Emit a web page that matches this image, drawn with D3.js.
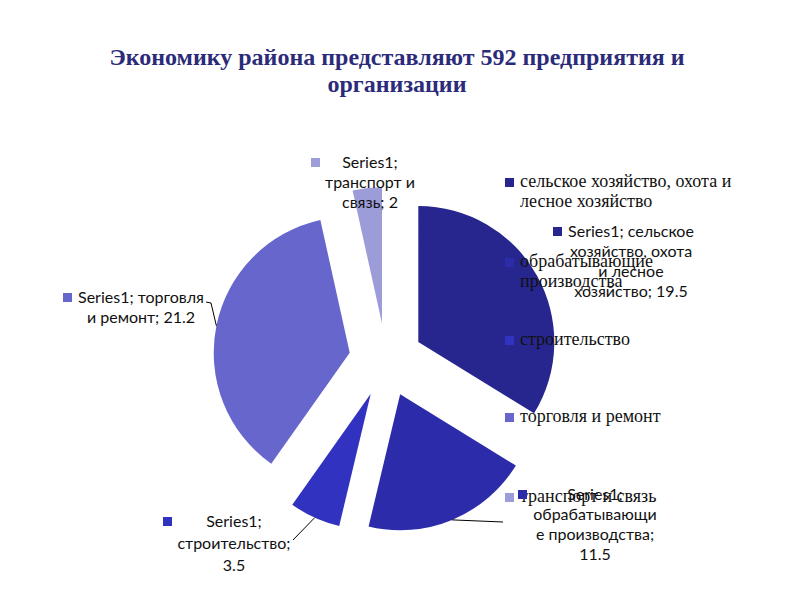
<!DOCTYPE html>
<html lang="ru">
<head>
<meta charset="UTF-8">
<title>Экономика района</title>
<script src="https://cdn.jsdelivr.net/npm/d3@7"></script>
<style>
  body { margin: 0; background: #fff; }
</style>
</head>
<body>
<div id="container"></div>
<script>
// data
let categories = ["сельское хозяйство, охота и лесное хозяйство", "обрабатывающие производства",
                  "строительство", "торговля и ремонт", "транспорт и связь"];
let values = [19.5, 11.5, 3.5, 21.2, 2];
let seriesName = "Series1";
let colors = ["#26268e", "#2c2caa", "#3232c0", "#6666cc", "#9c9cd8"];
// legend lines (wrapped like the original)
let legendLines = [["сельское хозяйство, охота и", "лесное хозяйство"], ["обрабатывающие", "производства"],
                   ["строительство"], ["торговля и ремонт"], ["транспорт и связь"]];
// data label lines
let labelLines = [
  ["Series1; сельское", "хозяйство, охота", "и лесное", "хозяйство; 19.5"],
  ["Series1;", "обрабатывающи", "е производства;", "11.5"],
  ["Series1;", "строительство;", "3.5"],
  ["Series1; торговля", "и ремонт; 21.2"],
  ["Series1;", "транспорт и", "связь; 2"]
];

let serif = "'Liberation Serif', Tinos, 'Times New Roman', 'Noto Serif', 'DejaVu Serif', serif";
let sans = "Lato, 'Noto Sans', sans-serif";

let W = 794, H = 595;
let svg = d3.select("#container").append("svg")
    .attr("width", W).attr("height", H);

let title = svg.append("text")
    .attr("font-family", serif).attr("font-weight", "bold").attr("font-size", 24)
    .attr("fill", "#2b2b7a").attr("text-anchor", "middle");
title.append("tspan").attr("x", 397).attr("y", 65)
    .text("Экономику района представляют 592 предприятия и");
title.append("tspan").attr("x", 397).attr("y", 92)
    .text("организации");

let cx = 386, cy = 360, radius = 136, explode = 37;

let pie = d3.pie().sort(null).value(d => d)(values);
let arc = d3.arc().innerRadius(0).outerRadius(radius);

function mid(d) { return (d.startAngle + d.endAngle) / 2; }
function offset(d) {
    let a = mid(d);
    return [cx + explode * Math.sin(a), cy - explode * Math.cos(a)];
}
function outerPoint(d) {
    let o = offset(d), a = mid(d);
    return [o[0] + radius * Math.sin(a), o[1] - radius * Math.cos(a)];
}

svg.append("g").selectAll("path")
    .data(pie).enter().append("path")
    .attr("transform", d => "translate(" + offset(d) + ")")
    .attr("d", arc)
    .attr("fill", (d, i) => colors[i]);

// legend
let legendY = [187, 267, 345, 422, 502];
let legend = svg.append("g");
categories.forEach((c, i) => {
    legend.append("rect")
        .attr("x", 505).attr("y", legendY[i] - 9)
        .attr("width", 9).attr("height", 9)
        .attr("fill", colors[i]);
    let t = legend.append("text").attr("x", 520).attr("y", legendY[i])
        .attr("font-family", serif).attr("font-size", 18).attr("fill", "#111");
    legendLines[i].forEach((l, j) => {
        t.append("tspan").attr("x", 520).attr("dy", j === 0 ? 0 : 20).text(l);
    });
});

// data labels: center x, first baseline, marker x, line step
let labelPos = [
    {x: 631, y: 237, mx: 553, step: 20},
    {x: 595, y: 500, mx: 518, step: 20},
    {x: 234, y: 527, mx: 163, step: 22},
    {x: 141, y: 303, mx: 63, step: 20},
    {x: 370, y: 168, mx: 311, step: 20}
];
let labels = svg.append("g");
pie.forEach((d, i) => {
    let p = labelPos[i];
    labels.append("rect")
        .attr("x", p.mx).attr("y", p.y - 10)
        .attr("width", 9).attr("height", 9)
        .attr("fill", colors[i]);
    let t = labels.append("text")
        .attr("font-family", sans).attr("font-size", 16).attr("fill", "#111")
        .attr("text-anchor", "middle").attr("y", p.y);
    labelLines[i].forEach((l, j) => {
        t.append("tspan").attr("x", p.x).attr("dy", j === 0 ? 0 : p.step).text(l);
    });
});

// leader lines (label end -> slice edge at mid angle)
let leaders = [
    {i: 1, from: [503, 522]},
    {i: 2, from: [293, 540]},
    {i: 3, from: [206, 302], via: [211, 303]}
];
leaders.forEach(l => {
    let pts = [l.from];
    if (l.via) pts.push(l.via);
    pts.push(outerPoint(pie[l.i]));
    svg.append("path")
        .attr("d", d3.line()(pts))
        .attr("fill", "none")
        .attr("stroke", "#000")
        .attr("stroke-width", 1);
});
</script>
</body>
</html>
